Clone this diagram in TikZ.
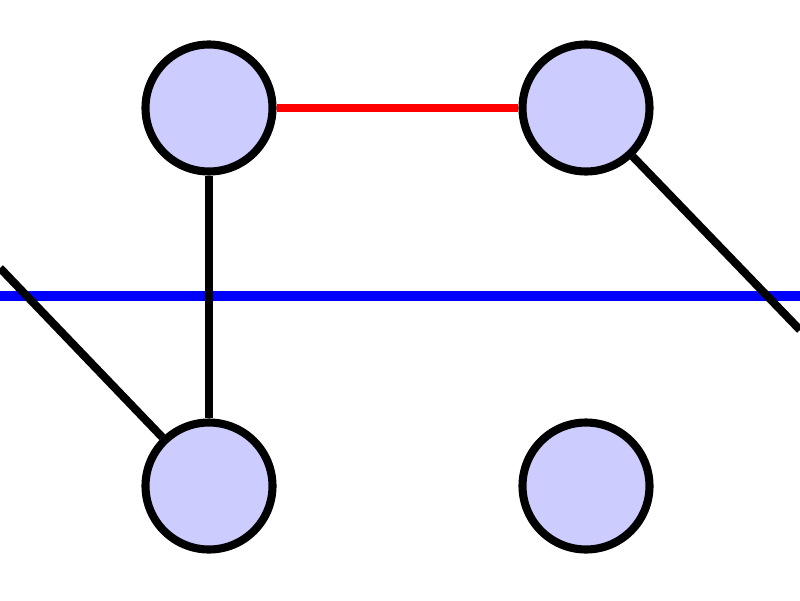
\documentclass[tikz,border=0pt]{standalone}
\usepackage{xcolor}
\usepackage{tikz}
\usetikzlibrary{positioning, calc}

\definecolor{vertexfill}{HTML}{CCCCFF}

\begin{document}
\begin{tikzpicture}[
    vertex/.style={circle, draw, line width=2.3pt, fill=vertexfill, minimum size=12.7mm, inner sep=0pt},
    edge/.style={line width=2.3pt},
    redge/.style={line width=2.3pt, red},
    bedge/.style={line width=2.6pt, blue}
  ]

    % 枠（800x600）
    \useasboundingbox (0,0) rectangle (8,6);

    % 頂点
    \node[vertex] (tl) at (2.09,4.92) {};
    \node[vertex] (tr) at (5.86,4.92) {};
    \node[vertex] (bl) at (2.09,1.14) {};
    \node[vertex] (br) at (5.86,1.14) {};

    % 画面外へ出る端点
    \coordinate (west) at (0,3.04);
    \coordinate (east) at (8,3.04);
    \coordinate (lout) at (0,3.32);
    \coordinate (rout) at (8,2.70);

    % 青い水平線（下に描く）
    \draw[bedge] (west) -- (east);

    % 辺
    \draw[redge] (tl) -- (tr);
    \draw[edge] (tl) -- (bl);
    \draw[edge] (lout) -- (bl);
    \draw[edge] (tr) -- (rout);

\end{tikzpicture}
\end{document}
